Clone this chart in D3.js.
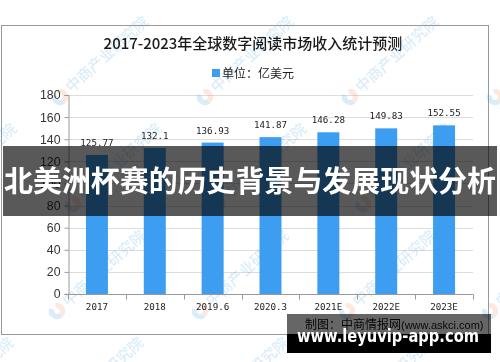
<!DOCTYPE html>
<html><head><meta charset="utf-8">
<script src="https://cdn.jsdelivr.net/npm/d3@7"></script>
<style>html,body{margin:0;padding:0;background:#fff;}svg{display:block;}</style>
</head><body>
<script>
const categories = ["2017","2018","2019.6","2020.3","2021E","2022E","2023E"];
const values = [125.77,132.1,136.93,141.87,146.28,149.83,152.55];
const yTicks = [0,20,40,60,80,100,120,140,160,180];
const title = "2017-2023年全球数字阅读市场收入统计预测";
const legendLabel = "单位：亿美元";
const bannerText = "北美洲杯赛的历史背景与发展现状分析";
const sourceText = "制图：中商情报网";
const sourceUrl = "(www.askci.com)";
const siteText = "www.leyuvip-app.com";
const watermarkText = "中商产业研究院";

const W = 500, H = 362;
const svg = d3.select("body").append("svg").attr("width", W).attr("height", H);

// chart frame
svg.append("rect").attr("x",1.5).attr("y",25.5).attr("width",487).attr("height",309)
  .attr("fill","#fff").attr("stroke","#999").attr("stroke-width",1);

const x = d3.scaleBand().domain(categories).range([68,473]).paddingInner(0.62).paddingOuter(0.31);
const y = d3.scaleLinear().domain([0,180]).range([294,95]);

// gridlines
svg.append("g").selectAll("line").data(yTicks.filter(d=>d>0)).join("line")
  .attr("x1",68).attr("x2",473).attr("y1",d=>Math.round(y(d))+0.5).attr("y2",d=>Math.round(y(d))+0.5)
  .attr("stroke","#dcdcdc").attr("stroke-width",1);

// watermarks
const wm = svg.append("g").attr("opacity",0.2);
const wmPos = [];
[[97,[60,205,350,495]],[204,[-72,73,218,363]],[311,[57,200,347,490]],[418,[-75,55,200,345]]]
  .forEach(([yy,xs])=>xs.forEach(xx=>wmPos.push([xx,yy])));
wmPos.forEach(([px,py])=>{
  const g = wm.append("g").attr("transform",`translate(${px},${py}) rotate(-42)`);
  g.append("path").attr("d",d3.arc()({innerRadius:3,outerRadius:8,startAngle:Math.PI*0.15,endAngle:Math.PI*1.0})).attr("fill","#f08a5d");
  g.append("path").attr("d",d3.arc()({innerRadius:3,outerRadius:8,startAngle:Math.PI*1.0,endAngle:Math.PI*1.85})).attr("fill","#4a9fe0");
  g.append("text").attr("x",11).attr("y",5).attr("font-family","Noto Sans CJK SC").attr("font-size",15)
    .attr("font-weight",500).attr("fill","#4a9fe0").text(watermarkText);
});

// title
svg.append("text").attr("x",253).attr("y",49).attr("text-anchor","middle")
  .attr("font-family","Noto Sans CJK SC").attr("font-size",15).attr("font-weight",500).attr("fill","#1a1a1a").text(title);

// legend
svg.append("rect").attr("x",212).attr("y",69).attr("width",8).attr("height",8).attr("fill","#3d9df0");
svg.append("text").attr("x",222).attr("y",77.5).attr("font-family","Noto Sans CJK SC").attr("font-size",12)
  .attr("fill","#222").text(legendLabel);

// bars
svg.append("g").selectAll("rect").data(values).join("rect")
  .attr("x",(d,i)=>x(categories[i])).attr("width",x.bandwidth())
  .attr("y",d=>y(d)).attr("height",d=>y(0)-y(d)).attr("fill","#3d9df0");

// value labels
svg.append("g").selectAll("text").data(values).join("text")
  .attr("x",(d,i)=>x(categories[i])+x.bandwidth()/2).attr("y",d=>y(d)-9)
  .attr("text-anchor","middle").attr("font-family","DejaVu Sans Mono").attr("font-size",9.2)
  .attr("fill","#222").text(d=>String(d));

// y axis
const yAxis = svg.append("g").attr("transform","translate(68.5,0)")
  .call(d3.axisLeft(y).tickValues(yTicks).tickSize(4).tickPadding(4));
yAxis.select(".domain").attr("stroke","#999");
yAxis.selectAll(".tick line").attr("stroke","#999");
yAxis.selectAll("text").attr("font-family","Liberation Sans, Arial").attr("font-size",12.3).attr("fill","#333");

// x axis
const xAxis = svg.append("g").attr("transform","translate(0,294.5)")
  .call(d3.axisBottom(x).tickSize(0).tickPadding(9));
xAxis.select(".domain").attr("stroke","#999").attr("d","M68,0H473");
xAxis.selectAll("text").attr("font-family","DejaVu Sans Mono").attr("font-size",9.2).attr("fill","#222");
const gap = (x.step()-x.bandwidth())/2;
const bounds = categories.map(c=>x(c)-gap).concat([x(categories[categories.length-1])+x.bandwidth()+gap]);
xAxis.append("g").selectAll("line").data(bounds).join("line")
  .attr("x1",d=>Math.round(d)+0.5).attr("x2",d=>Math.round(d)+0.5).attr("y1",0).attr("y2",5).attr("stroke","#999");

// source
const src = svg.append("text").attr("x",305).attr("y",329).attr("font-family","Noto Sans CJK SC").attr("font-size",12).attr("fill","#111");
src.append("tspan").text(sourceText);
src.append("tspan").attr("font-family","Liberation Sans, Arial").attr("font-size",11).text(sourceUrl);

// banner overlay
svg.append("rect").attr("x",3).attr("y",146).attr("width",494).attr("height",70).attr("fill","rgba(0,0,0,0.65)");
svg.append("text").attr("x",250).attr("y",192).attr("text-anchor","middle")
  .attr("font-family","Noto Sans CJK SC").attr("font-weight",700).attr("font-size",29)
  .attr("textLength",492).attr("lengthAdjust","spacingAndGlyphs").attr("fill","#fff").text(bannerText);

// bottom site box
svg.append("rect").attr("x",287).attr("y",314).attr("width",204).attr("height",20).attr("fill","rgba(0,0,0,0.6)");
svg.append("rect").attr("x",287).attr("y",334).attr("width",204).attr("height",19).attr("fill","#000");
svg.append("text").attr("x",297).attr("y",342).attr("font-family","DejaVu Sans").attr("font-weight",700)
  .attr("font-size",17).attr("textLength",182).attr("lengthAdjust","spacingAndGlyphs").attr("fill","#fff").text(siteText);
</script>
</body></html>
